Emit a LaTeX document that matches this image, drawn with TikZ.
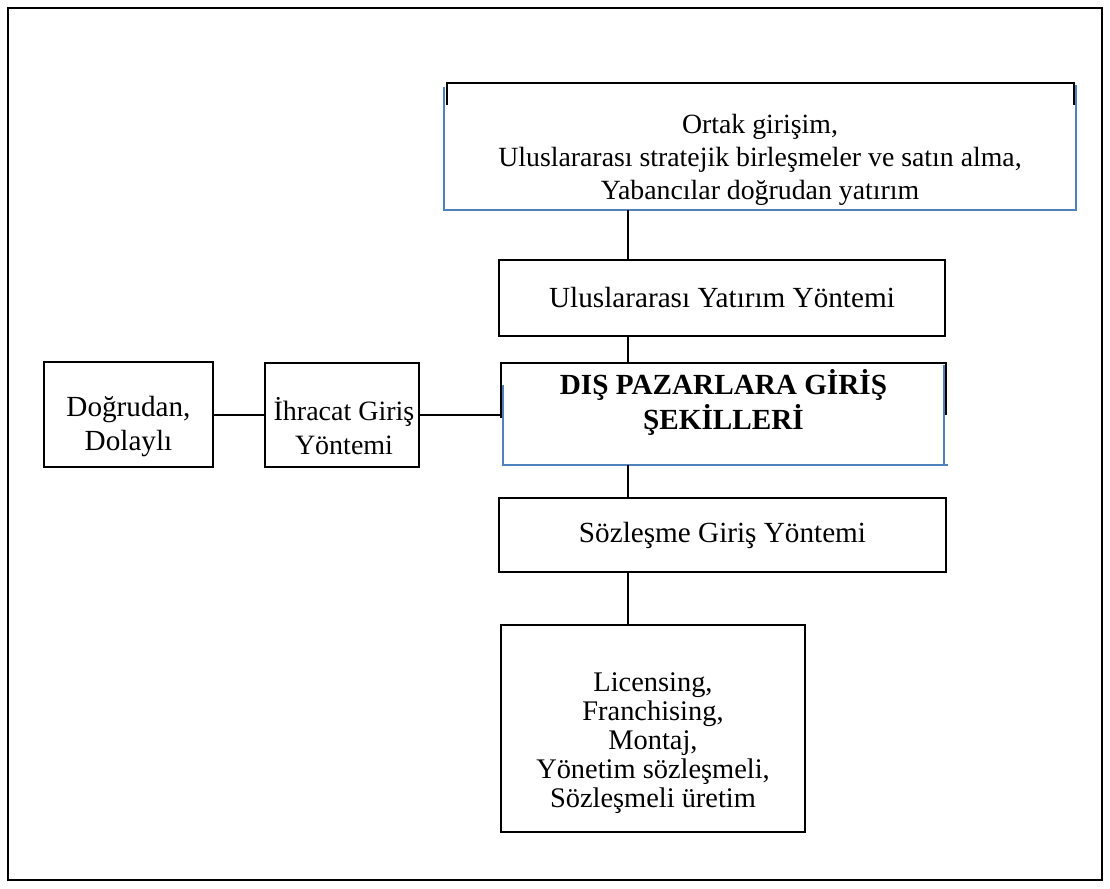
\documentclass[tikz,border=0pt]{standalone}
\usepackage{fontspec}
\setmainfont{Liberation Serif}
\definecolor{wordblue}{RGB}{79,129,189}
\tikzset{
  frame/.style = {draw, line width=1pt, inner sep=0pt, outer sep=0pt},
  open/.style = {inner sep=0pt, outer sep=0pt},
  txt/.style = {align=center, inner sep=0pt, font=\fontsize{14.6}{#1}\selectfont},
  txt/.default = 16.5pt,
  edge/.style = {line width=1pt},
  blueline/.style = {wordblue, line width=0.8pt}
}

\begin{document}
\begin{tikzpicture}[x=0.5pt, y=-0.5pt]
	\def\spinex{628}
	\useasboundingbox (0,0) rectangle (1110,889);
	\draw[edge] (8,8) rectangle (1102,880);

	\coordinate (spine) at (\spinex,0);

	% Top box
	\node[open, minimum width=316pt, minimum height=63.5pt] (join) at (760,146.5) {};
	\draw[blueline] ([yshift=-2pt]join.north west) -- (join.south west) -- (join.south east) -- ([yshift=-1pt]join.north east);
	\draw[edge] ([xshift=1.5pt,yshift=-11pt]join.north west) -- ([xshift=1.5pt]join.north west) -- ([xshift=-1pt]join.north east) -- ++(0,22);
	\node[txt, font=\fontsize{13.9}{16.5}\selectfont] (joinTxt) at ([yshift=-6.5pt]join.center) {Ortak girişim,\\Uluslararası stratejik birleşmeler ve satın alma,\\Yabancılar doğrudan yatırım};

	% Investment
	\node[frame, txt, minimum width=223pt, minimum height=38pt] (intl) at (722,298) {Uluslararası Yatırım Yöntemi};

	% Centre box
	\node[open, minimum width=222.5pt, minimum height=51pt] (main) at (723.5,414) {};
	\draw[blueline] ([xshift=1pt,yshift=-11pt]main.north west) -- ([xshift=1pt]main.south west) -- ([xshift=1pt]main.south east);
	\draw[blueline] ([xshift=-1pt]main.south east) -- ([xshift=-1pt,yshift=-1pt]main.north east);
	\draw[edge] ([yshift=-27.5pt]main.north west) -- (main.north west) -- (main.north east) -- ++(0,52);
	\node[align=center, inner sep=0pt, font={\fontsize{14.6}{17.5}\selectfont\bfseries}] (mainTxt) at ([yshift=6pt]main.center) {DIŞ PAZARLARA GİRİŞ\\ŞEKİLLERİ};

	% Contract
	\node[frame, txt, minimum width=223.5pt, minimum height=37pt] (contract) at (722.5,535) {Sözleşme Giriş Yöntemi};
	\node[frame, minimum width=152pt, minimum height=103.5pt] (forms) at (653,728.5) {};
	\node[txt=14.5pt, font=\fontsize{14.2}{14.5}\selectfont] (formsTxt) at ([yshift=-7.5pt]forms.center) {Licensing,\\Franchising,\\Montaj,\\Yönetim sözleşmeli,\\Sözleşmeli üretim};

	% Export
	\node[frame, minimum width=84.5pt, minimum height=52.5pt] (direct) at (128.5,414.5) {};
	\node[txt=17pt] (directTxt) at ([yshift=-6pt]direct.center) {Doğrudan,\\Dolaylı};
	\node[frame, minimum width=77pt, minimum height=52pt] (export) at (342,414.5) {};
	\node[txt=17pt, font=\fontsize{14}{17}\selectfont] (exportTxt) at ([xshift=1pt,yshift=-6pt]export.center) {İhracat Giriş\\Yöntemi};

	% Lines
	\draw[edge] (join.south -| spine) -- (intl.north -| spine);
	\draw[edge] (intl.south -| spine) -- (main.north -| spine);
	\draw[edge] (main.south -| spine) -- (contract.north -| spine);
	\draw[edge] (contract.south -| spine) -- (forms.north -| spine);
	\draw[edge] (direct.east) -- (export.west);
	\draw[edge] (export.east) -- (export.east -| main.west);
\end{tikzpicture}
\end{document}
